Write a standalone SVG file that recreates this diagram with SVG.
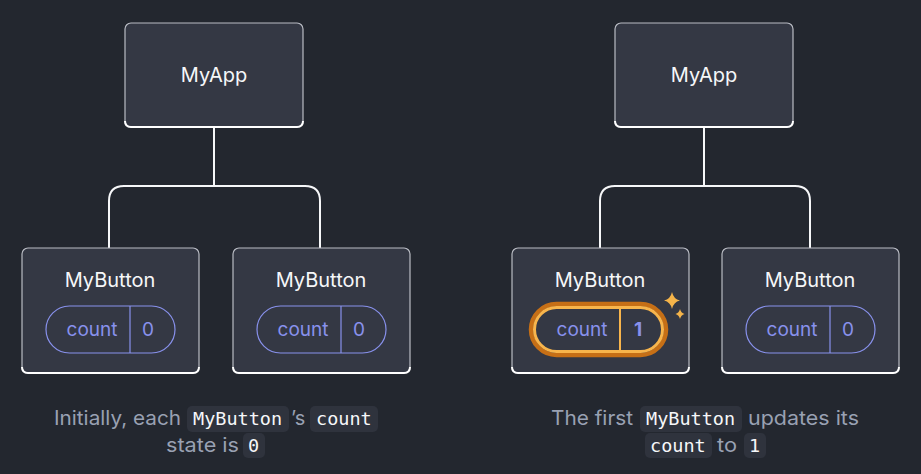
<svg xmlns="http://www.w3.org/2000/svg" width="921" height="474" viewBox="0 0 921 474">
  <style>
    .bg { fill: #23272f; }
    .box { fill: #343844; stroke: #b9bcc4; stroke-width: 1.2; }
    .boxbase { fill: none; stroke: #ffffff; stroke-width: 2; }
    .title { font-family: Inter, "Noto Sans", sans-serif; font-size: 20px; fill: #f6f7f9; text-anchor: middle; }
    .wire { fill: none; stroke: #f6f7f9; stroke-width: 2; }
    .pill { fill: none; stroke: #8891ec; stroke-width: 1.2; }
    .pilltxt { font-family: Inter, "Noto Sans", sans-serif; font-size: 19px; fill: #8891ec; text-anchor: middle; }
    .cap { font-family: Inter, "Noto Sans", sans-serif; font-size: 20px; fill: #99a1b3; }
    .code { font-family: "DejaVu Sans Mono", "Liberation Mono", monospace; font-size: 18.5px; fill: #f6f7f9; }
    .codebg { fill: #2f333d; }
    .spark { fill: #f5b44a; }
  </style>
  <rect class="bg" x="0" y="0" width="921" height="474"/>

  <!-- connectors -->
  <g id="connectors">
    <path class="wire" d="M214 127 V186 M109 248 V201 Q109 186 124 186 H305 Q320 186 320 201 V248"/>
    <path class="wire" d="M704 127 V186 M600 248 V201 Q600 186 615 186 H795 Q810 186 810 201 V248"/>
  </g>

  <!-- left tree -->
  <g id="app-left">
    <rect class="box" x="125" y="23" width="178" height="104" rx="6"/>
    <path class="boxbase" d="M125 121 Q125 127 131 127 H297 Q303 127 303 121"/>
    <text class="title" x="214" y="82">MyApp</text>
  </g>
  <g id="button-left-1">
    <rect class="box" x="22" y="248" width="177" height="125" rx="6"/>
    <path class="boxbase" d="M22 367 Q22 373 28 373 H193 Q199 373 199 367"/>
    <text class="title" x="110" y="287">MyButton</text>
    <rect class="pill" x="46" y="306" width="129" height="47" rx="23.5"/>
    <line class="pill" x1="130" y1="306" x2="130" y2="353"/>
    <text class="pilltxt" x="92" y="336">count</text>
    <text class="pilltxt" x="148" y="336">0</text>
  </g>
  <g id="button-left-2">
    <rect class="box" x="233" y="248" width="177" height="125" rx="6"/>
    <path class="boxbase" d="M233 367 Q233 373 239 373 H404 Q410 373 410 367"/>
    <text class="title" x="321" y="287">MyButton</text>
    <rect class="pill" x="257" y="306" width="129" height="47" rx="23.5"/>
    <line class="pill" x1="341" y1="306" x2="341" y2="353"/>
    <text class="pilltxt" x="303" y="336">count</text>
    <text class="pilltxt" x="359" y="336">0</text>
  </g>

  <!-- right tree -->
  <g id="app-right">
    <rect class="box" x="615" y="23" width="178" height="104" rx="6"/>
    <path class="boxbase" d="M615 121 Q615 127 621 127 H787 Q793 127 793 121"/>
    <text class="title" x="704" y="82">MyApp</text>
  </g>
  <g id="button-right-1">
    <rect class="box" x="512" y="248" width="177" height="125" rx="6"/>
    <path class="boxbase" d="M512 367 Q512 373 518 373 H683 Q689 373 689 367"/>
    <text class="title" x="600" y="287">MyButton</text>
    <rect x="531" y="304" width="135" height="51" rx="25.5" fill="none" stroke="#c66f16" stroke-width="4.5"/>
    <rect x="534.5" y="307.5" width="128" height="44" rx="22" fill="none" stroke="#f8b54c" stroke-width="3"/>
    <line x1="620" y1="307" x2="620" y2="352" stroke="#f8b54c" stroke-width="2"/>
    <text class="pilltxt" x="582" y="336">count</text>
    <text class="pilltxt" x="638" y="336" font-weight="700">1</text>
    <path class="spark" d="M672 292 Q673.5 299 680 300.5 Q673.5 302 672 309 Q670.5 302 664 300.5 Q670.5 299 672 292 Z"/>
    <path class="spark" d="M680 309 Q681 313 684.5 314 Q681 315 680 319 Q679 315 675.5 314 Q679 313 680 309 Z"/>
  </g>
  <g id="button-right-2">
    <rect class="box" x="722" y="248" width="177" height="125" rx="6"/>
    <path class="boxbase" d="M722 367 Q722 373 728 373 H893 Q899 373 899 367"/>
    <text class="title" x="810" y="287">MyButton</text>
    <rect class="pill" x="746" y="306" width="129" height="47" rx="23.5"/>
    <line class="pill" x1="830" y1="306" x2="830" y2="353"/>
    <text class="pilltxt" x="792" y="336">count</text>
    <text class="pilltxt" x="848" y="336">0</text>
  </g>

  <!-- captions -->
  <g id="caption-left">
    <rect class="codebg" x="187" y="406" width="102" height="26" rx="5"/>
    <rect class="codebg" x="310" y="406" width="68" height="26" rx="5"/>
    <rect class="codebg" x="243" y="433" width="22" height="25" rx="5"/>
    <text class="cap" x="54" y="425" textLength="127" lengthAdjust="spacingAndGlyphs">Initially, each</text>
    <text class="code" x="193" y="425">MyButton</text>
    <text class="cap" x="291" y="425">’s</text>
    <text class="code" x="316" y="425">count</text>
    <text class="cap" x="166" y="452" textLength="73" lengthAdjust="spacingAndGlyphs">state is</text>
    <text class="code" x="248" y="452">0</text>
  </g>
  <g id="caption-right">
    <rect class="codebg" x="640" y="406" width="102" height="26" rx="5"/>
    <rect class="codebg" x="645" y="433" width="67" height="25" rx="5"/>
    <rect class="codebg" x="744" y="433" width="22" height="25" rx="5"/>
    <text class="cap" x="551" y="425" textLength="82" lengthAdjust="spacingAndGlyphs">The first</text>
    <text class="code" x="646" y="425">MyButton</text>
    <text class="cap" x="748" y="425" textLength="111" lengthAdjust="spacingAndGlyphs">updates its</text>
    <text class="code" x="650" y="452">count</text>
    <text class="cap" x="717" y="452" textLength="20" lengthAdjust="spacingAndGlyphs">to</text>
    <text class="code" x="749" y="452">1</text>
  </g>
</svg>
